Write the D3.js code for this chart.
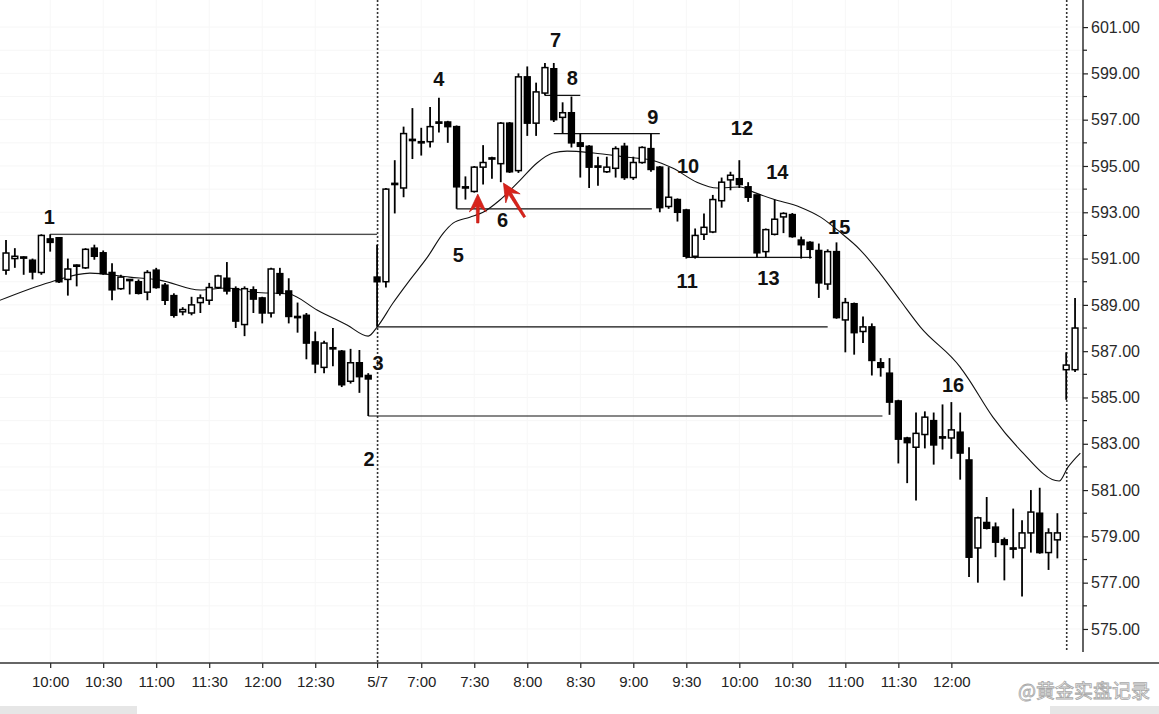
<!DOCTYPE html>
<html><head><meta charset="utf-8">
<script src="https://cdn.jsdelivr.net/npm/d3@7/dist/d3.min.js"></script>
<style>html,body{margin:0;padding:0;background:#fff;overflow:hidden}svg{display:block}</style>
</head><body>
<svg id="chart" width="1159" height="714"></svg>
<script>
// ---------- DATA (5-minute bars) ----------
const day1Open  = [590.5,591.0,591.05,590.93,590.4,591.85,591.9,590.1,590.7,590.6,591.45,591.25,590.4,589.7,590.05,590.0,589.55,590.5,589.85,589.4,588.7,588.65,589.1,589.2,589.75,590.15,589.7,588.15,589.65,589.3,588.65,590.35,589.6,588.5,588.55,587.4,586.3,587.1,587.0,585.7,586.5,585.95];
const day1High  = [591.8,591.45,591.1,591.0,592.05,592.05,591.9,591.0,590.75,591.45,591.6,591.35,590.8,590.3,590.1,590.1,590.5,590.6,589.95,589.5,588.9,589.35,589.45,589.95,590.3,590.85,589.8,589.8,589.8,589.35,590.6,590.6,590.15,589.1,588.65,587.85,587.45,588.0,587.05,587.1,587.05,586.05];
const day1Low   = [590.3,590.6,590.3,590.1,590.3,591.3,589.95,589.4,589.8,590.55,590.95,590.3,589.2,589.65,589.45,589.45,589.2,589.7,589.0,588.45,588.55,588.55,588.65,589.0,589.7,589.45,588.0,587.65,588.65,588.2,588.45,589.4,588.2,587.8,586.65,586.05,586.05,586.35,585.45,585.6,585.2,584.2];
const day1Close = [591.24,591.1,591.07,590.42,592.0,591.7,590.0,590.55,590.72,591.4,591.1,590.35,589.65,590.2,590.1,589.5,590.4,589.75,589.2,588.55,588.8,589.0,589.3,589.75,590.25,589.6,588.3,589.7,589.25,588.65,590.55,589.5,588.5,588.45,587.35,586.45,587.35,587.15,585.55,586.5,585.9,585.8];

const day2Open  = [590.2,590.0,594.2,594.05,596.1,596.0,596.05,596.85,596.9,596.7,
                   594.1,593.9,594.95,595.3,595.1,596.85,594.8,598.85,596.85,598.15,
                   599.2,597.1,597.3,596.0,595.85,594.95,594.75,594.9,595.85,594.5,
                   595.15,595.75,594.95,593.25,593.55,593.1,591.1,592.05,592.15,593.5,
                   594.4,594.45,594.1,593.75,591.3,592.05,592.8,592.9,591.8,591.7,
                   591.35,589.9,591.3,588.35,589.05,587.85,588.05,586.5,586.05,584.85,
                   583.25,582.85,583.4,584.0,583.3,583.25,583.5,582.3,578.5,579.6,
                   579.4,578.85,578.5,578.5,579.15,580.0,578.3,578.85];
const day2High  = [591.6,594.05,595.25,596.7,597.5,596.65,597.55,597.95,596.95,596.75,
                   594.55,595.0,595.9,595.4,596.9,596.9,599.0,599.3,598.6,599.45,
                   599.45,597.75,598.0,596.4,595.9,595.4,595.4,595.85,596.0,595.4,
                   595.85,596.4,595.0,594.95,593.6,593.15,592.3,592.95,593.75,594.5,
                   594.75,595.25,594.3,593.75,592.3,593.55,593.0,592.97,591.95,591.75,
                   591.65,591.4,591.7,589.3,589.1,588.5,588.2,586.7,586.7,584.9,
                   583.3,584.35,584.4,584.35,584.7,584.8,584.35,582.85,579.85,580.7,
                   579.6,578.95,580.2,579.7,581.0,581.1,579.35,580.0];
const day2Low   = [588.05,589.75,592.95,593.65,595.3,595.45,595.8,596.45,596.0,593.15,
                   593.55,593.85,594.2,594.45,594.3,594.7,594.7,596.3,596.3,598.05,
                   596.9,596.4,595.8,594.5,594.05,594.15,594.7,594.5,594.4,594.4,
                   595.1,594.75,593.0,593.15,592.6,591.0,591.0,591.8,592.1,593.2,
                   593.95,594.05,593.45,591.05,591.05,592.0,592.1,591.9,591.0,591.0,
                   589.3,589.65,588.4,586.95,586.85,587.35,585.95,585.9,584.25,582.15,
                   581.3,580.55,582.8,582.1,582.75,582.35,581.45,577.25,577.0,579.3,
                   578.1,577.1,578.05,576.4,578.3,578.25,577.55,578.05];
const day2Close = [590.0,594.0,594.25,596.4,596.15,596.05,596.7,596.9,596.7,594.1,
                   594.1,594.95,595.15,595.35,596.85,594.75,598.85,596.85,598.2,599.25,
                   597.0,597.3,596.0,595.85,594.95,595.0,594.95,595.75,594.5,595.15,
                   595.8,594.85,593.2,593.65,593.0,591.1,592.0,592.35,593.55,594.3,
                   594.6,594.2,593.65,591.25,592.25,592.7,592.95,591.95,591.6,591.4,
                   589.95,591.3,588.45,589.1,587.8,588.05,586.6,586.3,584.8,583.2,
                   583.05,583.45,584.15,582.95,583.25,583.6,582.6,578.1,579.8,579.35,
                   578.75,578.65,578.5,579.15,580.05,578.3,579.15,579.15];

const day3Open  = [586.2,586.2];
const day3High  = [586.95,589.3];
const day3Low   = [584.9,586.1];
const day3Close = [586.4,588.0];

// moving average: [bar index, price]
const emaPoints = [[-1,589.15],[5,589.98],[9.5,590.37],[14,590.2],[17.4,590.07],[22,589.64],[25,589.73],[28,589.55],[32,589.47],[35.2,588.78],[38.6,588.13],[41,587.65],[42,588.04],[43.8,589.08],[45.7,590.07],[47.7,591.06],[49.5,592.1],[50.6,592.53],[52.5,592.79],[54,593.0],[55.9,593.53],[58.2,594.39],[60.1,595.13],[61.9,595.56],[63.5,595.64],[66.5,595.56],[70.3,595.38],[73.1,595.25],[75.5,594.9],[78.2,594.3],[80.5,594.05],[83.1,594.09],[84.6,593.87],[86.8,593.57],[89.9,593.22],[92.2,592.79],[94.4,592.14],[96.7,591.37],[98.9,590.37],[101.2,589.2],[103.5,588.04],[108,586.31],[108.8,585.88],[111.7,584.15],[114.8,582.73],[119.2,581.39],[120.2,581.99],[121.6,582.6]];

const xTickBars   = [5,11,17,23,29,35,42,47,53,59,65,71,77,83,89,95,101,107];
const xTickLabels = ["10:00","10:30","11:00","11:30","12:00","12:30","5/7","7:00","7:30","8:00","8:30","9:00","9:30","10:00","10:30","11:00","11:30","12:00"];
const yTickValues = [575,577,579,581,583,585,587,589,591,593,595,597,599,601];
const dayBreaks   = [42,120];

// horizontal reference levels: [from bar, to bar, price]
const levelLines = [[5,42,592.05],[42,93,588.05],[41,99.2,584.2],[51,73.1,593.15],[61,65,598.05],[62,74,596.4],[77,91.2,591.05]];

// numbered annotations
const waveLabels = ["1","2","3","4","5","6","7","8","9","10","11","12","13","14","15","16"];
const waveBars   = [4.9,41.1,42.1,49.0,51.2,56.2,62.2,64.1,73.2,77.2,77.1,83.3,86.3,87.3,94.3,107.2];
const wavePrices = [592.79,582.34,586.49,598.75,591.15,592.66,600.44,598.8,597.11,595.0,590.03,596.64,590.16,594.74,592.36,585.54];

// red arrows: tip bar, tip price
const arrowBars   = [53.4,56.3];
const arrowPrices = [593.79,594.26];

// ---------- BUILD ----------
const opens  = day1Open.concat(day2Open, day3Open);
const highs  = day1High.concat(day2High, day3High);
const lows   = day1Low.concat(day2Low, day3Low);
const closes = day1Close.concat(day2Close, day3Close);
const bars = opens.map((o,i)=>({i, o, h:highs[i], l:lows[i], c:closes[i]}));

const svg = d3.select("#chart");
const W = 1159, axisX = 1083, axisY = 663;
const x = d3.scaleLinear().domain([-0.68, 121.9]).range([0, axisX]);
const y = d3.scaleLinear().domain([573.53, 602.17]).range([axisY, 0]);

svg.append("rect").attr("width", W).attr("height", 714).attr("fill", "#fff");

// faint grid
const grid = svg.append("g");
grid.selectAll("line.h").data(d3.range(575, 602, 1)).join("line")
  .attr("x1", 0).attr("x2", axisX).attr("y1", d=>y(d)).attr("y2", d=>y(d))
  .attr("stroke", "#f6f6f6").attr("stroke-width", 1);
grid.selectAll("line.v").data(xTickBars).join("line")
  .attr("x1", d=>x(d)).attr("x2", d=>x(d)).attr("y1", 0).attr("y2", axisY)
  .attr("stroke", "#f7f7f7").attr("stroke-width", 1);

const defs = svg.append("defs");
defs.append("clipPath").attr("id","plot").append("rect").attr("x",0).attr("y",0).attr("width",axisX).attr("height",axisY);

// day separators (dotted)
svg.append("g").selectAll("line").data(dayBreaks).join("line")
  .attr("x1", d=>x(d)+0.5).attr("x2", d=>x(d)+0.5)
  .attr("y1", 0).attr("y2", (d,i)=> i===0 ? axisY : 652)
  .attr("stroke", "#333").attr("stroke-width", 1.6).attr("stroke-dasharray", "2,2");

// reference levels
svg.append("g").selectAll("line").data(levelLines).join("line")
  .attr("x1", d=>x(d[0])).attr("x2", d=>x(d[1]))
  .attr("y1", d=>y(d[2])).attr("y2", d=>y(d[2]))
  .attr("stroke", "#111").attr("stroke-width", 1.2);

// moving average
svg.append("path").datum(emaPoints)
  .attr("clip-path","url(#plot)")
  .attr("d", d3.line().x(d=>x(d[0])).y(d=>y(d[1])).curve(d3.curveMonotoneX))
  .attr("fill","none").attr("stroke","#111").attr("stroke-width",1.1);

// candles
const bw = 5.8;
const cg = svg.append("g");
cg.selectAll("line").data(bars).join("line")
  .attr("x1", d=>x(d.i)).attr("x2", d=>x(d.i))
  .attr("y1", d=>y(d.h)).attr("y2", d=>y(d.l))
  .attr("stroke", "#000").attr("stroke-width", 1.8);
cg.selectAll("rect").data(bars).join("rect")
  .attr("x", d=>x(d.i)-bw/2)
  .attr("y", d=>y(Math.max(d.o,d.c)))
  .attr("width", bw)
  .attr("height", d=>Math.max(1.2, Math.abs(y(d.o)-y(d.c))))
  .attr("fill", d=> d.c >= d.o ? "#fff" : "#000")
  .attr("stroke", "#000").attr("stroke-width", 1.5);

// number labels
svg.append("g").selectAll("text").data(waveLabels).join("text")
  .attr("x", (d,i)=>x(waveBars[i])).attr("y", (d,i)=>y(wavePrices[i]))
  .attr("text-anchor","middle").attr("dominant-baseline","central")
  .attr("font-family","'Liberation Sans', Arial, sans-serif").attr("font-weight","bold")
  .attr("font-size", 20).attr("fill","#111").text(d=>d);

// red arrows
const arrowShapes = [
  {rot:0,  len:29},
  {rot:-32,len:40}
];
svg.append("g").selectAll("path").data(arrowBars).join("path")
  .attr("transform", (d,i)=>`translate(${x(d)},${y(arrowPrices[i])}) rotate(${arrowShapes[i].rot})`)
  .attr("d", (d,i)=>{const L=arrowShapes[i].len;return `M0,0 L8.5,18 L1.6,12.5 L1.2,${L} L-1.2,${L} L-1.6,12.5 L-8.5,18 Z`;})
  .attr("fill","#d8231b").attr("stroke","#c0150f").attr("stroke-width",0.6);

// y axis (right)
const yAxis = d3.axisRight(y).tickValues(yTickValues).tickSize(5).tickPadding(3)
  .tickFormat(d3.format(".2f"));
const yg = svg.append("g").attr("transform", `translate(${axisX},0)`).call(yAxis);
yg.select(".domain").remove();
yg.selectAll(".tick line").attr("stroke","#222").attr("stroke-width",1.2);
yg.selectAll(".tick text").attr("font-family","'Liberation Sans', Arial, sans-serif")
  .attr("font-size",16).attr("fill","#2a2a2a");
yg.selectAll("line.minor").data(d3.range(576, 602, 2)).join("line").attr("class","minor")
  .attr("x1",0).attr("x2",4).attr("y1",d=>y(d)).attr("y2",d=>y(d))
  .attr("stroke","#222").attr("stroke-width",1.2);
svg.append("line").attr("x1",axisX).attr("x2",axisX).attr("y1",0).attr("y2",652)
  .attr("stroke","#222").attr("stroke-width",1.4);

// x axis (bottom)
const xAxis = d3.axisBottom(x).tickValues(xTickBars).tickSize(5).tickPadding(8)
  .tickFormat((d,i)=>xTickLabels[i]);
const xg = svg.append("g").attr("transform", `translate(0,${axisY})`).call(xAxis);
xg.select(".domain").remove();
xg.selectAll(".tick line").attr("stroke","#222").attr("stroke-width",1.2);
xg.selectAll(".tick text").attr("font-family","'Liberation Sans', Arial, sans-serif")
  .attr("font-size",15).attr("fill","#222");
svg.append("line").attr("x1",0).attr("x2",W).attr("y1",axisY).attr("y2",axisY)
  .attr("stroke","#333").attr("stroke-width",1.4);

// watermark
svg.append("text").attr("x", 1150).attr("y", 689).attr("text-anchor","end")
  .attr("dominant-baseline","central")
  .attr("font-family","'Noto Sans CJK SC', sans-serif").attr("font-size",19)
  .attr("fill","#fafafa").attr("stroke","#a8a8a8").attr("stroke-width",0.8)
  .text("@黄金实盘记录");

// bottom strip artifacts
svg.append("rect").attr("x",0).attr("y",706).attr("width",137).attr("height",8).attr("fill","#e6e6e6");
svg.append("rect").attr("x",1050).attr("y",706).attr("width",109).attr("height",8).attr("fill","#e6e6e6");
</script>
</body></html>
